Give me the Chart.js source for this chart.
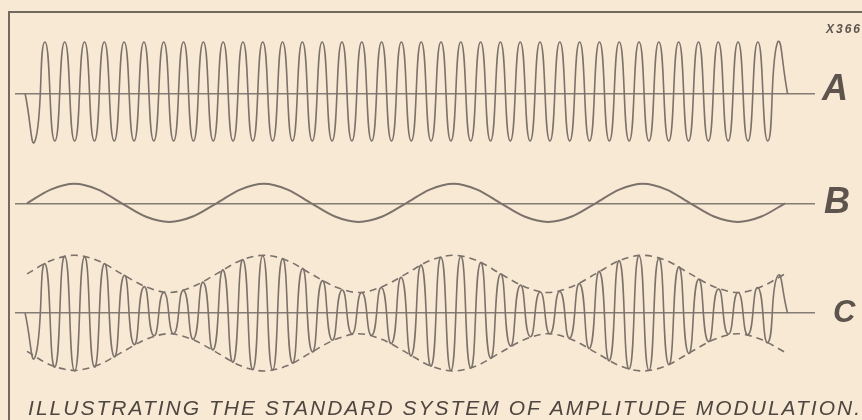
<!DOCTYPE html>
<html>
<head>
<meta charset="utf-8">
<script src="https://cdn.jsdelivr.net/npm/chart.js@4.4.1/dist/chart.umd.min.js"></script>
<style>
  html, body { margin: 0; padding: 0; background: #f7e9d3; }
  #wrap { position: relative; width: 862px; height: 420px; }
  #frame { position: absolute; left: 8px; top: 11px; right: 0; bottom: 0;
           border-left: 2px solid #72695f; border-top: 2px solid #72695f; pointer-events: none; }
</style>
</head>
<body>
<div id="wrap">
  <canvas id="grafikModulasi" width="862" height="420"></canvas>
  <div id="frame"></div>
</div>
<script>
// time is measured in periods of the modulating wave B
const carrierStart = -0.01;   // first sample of the carrier (on the axis)
const carrierStep = 0.05225;  // half a carrier cycle
const signalStep = 0.125;     // eighth of a modulation cycle

// A: unmodulated carrier, one value per half-cycle (trough, peak, ...)
const carrierA = [0,
  -0.97, 1.05, -0.97, 1.05, -0.97, 1.05, -0.97, 1.05, -0.97, 1.05,
  -0.97, 1.05, -0.97, 1.05, -0.97, 1.05, -0.97, 1.05, -0.97, 1.05,
  -0.97, 1.05, -0.97, 1.05, -0.97, 1.05, -0.97, 1.05, -0.97, 1.05,
  -0.97, 1.05, -0.97, 1.05, -0.97, 1.05, -0.97, 1.05, -0.97, 1.05,
  -0.97, 1.05, -0.97, 1.05, -0.97, 1.05, -0.97, 1.05, -0.97, 1.05,
  -0.97, 1.05, -0.97, 1.05, -0.97, 1.05, -0.97, 1.05, -0.97, 1.05,
  -0.97, 1.05, -0.97, 1.05, -0.97, 1.05, -0.97, 1.05, -0.97, 1.05,
  -0.97, 1.05, -0.97, 1.05, -0.97, 1.05,
  0];

// B: modulating wave, 4 cycles
const signalB = [
  0, 0.28, 0.40, 0.28, 0, -0.27, -0.38, -0.27,
  0, 0.28, 0.40, 0.28, 0, -0.27, -0.38, -0.27,
  0, 0.28, 0.40, 0.28, 0, -0.27, -0.38, -0.27,
  0, 0.28, 0.40, 0.28, 0, -0.27, -0.38, -0.27,
  0];

// C: modulated carrier, same half-cycles as A
const carrierC = [0,
  -0.90, 1.01, -1.10, 1.16, -1.18, 1.15, -1.10, 1.01, -0.89, 0.77,
  -0.64, 0.54, -0.46, 0.42, -0.42, 0.46, -0.53, 0.63, -0.75, 0.88,
  -1.00, 1.09, -1.15, 1.17, -1.16, 1.11, -1.02, 0.91, -0.79, 0.66,
  -0.55, 0.47, -0.42, 0.42, -0.45, 0.52, -0.62, 0.73, -0.87, 0.98,
  -1.08, 1.14, -1.17, 1.16, -1.12, 1.03, -0.92, 0.80, -0.67, 0.57,
  -0.48, 0.43, -0.42, 0.44, -0.51, 0.60, -0.72, 0.85, -0.97, 1.07,
  -1.14, 1.17, -1.17, 1.12, -1.05, 0.94, -0.82, 0.69, -0.58, 0.49,
  -0.43, 0.42, -0.44, 0.52, -0.60, 0.76,
  0];

// dashed envelope of C
const envelopeTop = [
  0.80, 1.07, 1.18, 1.07, 0.80, 0.54, 0.42, 0.54,
  0.80, 1.07, 1.18, 1.07, 0.80, 0.54, 0.42, 0.54,
  0.80, 1.07, 1.18, 1.07, 0.80, 0.54, 0.42, 0.54,
  0.80, 1.07, 1.18, 1.07, 0.80, 0.54, 0.42, 0.54,
  0.80];
const envelopeBottom = [
  -0.78, -1.06, -1.17, -1.06, -0.80, -0.54, -0.42, -0.54,
  -0.80, -1.07, -1.18, -1.07, -0.80, -0.54, -0.42, -0.54,
  -0.80, -1.07, -1.18, -1.07, -0.80, -0.54, -0.42, -0.54,
  -0.80, -1.07, -1.18, -1.07, -0.80, -0.54, -0.42, -0.54,
  -0.80];

const rowLetters = { yA: "A", yB: "B", yC: "C" };

const ink = "#7b726b";
const labelInk = "#5c544d";

function toPoints(values, start, step) {
    return values.map((v, i) => ({ x: start + i * step, y: v }));
}

function rowAxis(id, weight, range, pad, size, shift) {
    return {
        type: "linear",
        position: "right",
        stack: "rows",
        stackWeight: weight,
        min: -range,
        max: range,
        afterBuildTicks: (s) => { s.ticks = [{ value: 0 }]; },
        afterFit: (s) => { s.width = 47; },
        border: { display: false },
        grid: {
            drawTicks: false,
            lineWidth: 1.4,
            color: (c) => (c.tick && c.tick.value === 0 ? "#857c75" : "rgba(0,0,0,0)"),
        },
        ticks: {
            padding: pad,
            labelOffset: shift,
            color: labelInk,
            font: { family: "Liberation Sans", size: size, style: "italic", weight: "bold" },
            callback: () => rowLetters[id],
        },
    };
}

// smooth curves for the slow waves
const wave = {
    pointRadius: 0,
    cubicInterpolationMode: "monotone",
    borderColor: ink,
    borderWidth: 1.6,
    fill: false,
    clip: false,
};

// carrier: rounded tops, steep sides
const carrier = {
    ...wave,
    cubicInterpolationMode: "default",
    tension: 0.6,
};

const letterSpacing = {
    id: "letterSpacing",
    beforeDraw: (chart) => { chart.ctx.letterSpacing = "2px"; },
    afterDraw: (chart) => { chart.ctx.letterSpacing = "0px"; },
};

new Chart(document.getElementById("grafikModulasi"), {
    type: "line",
    data: {
        datasets: [
            { ...carrier, label: "A", yAxisID: "yA", data: toPoints(carrierA, carrierStart, carrierStep) },
            { ...wave, label: "B", yAxisID: "yB", borderWidth: 2, data: toPoints(signalB, 0, signalStep) },
            { ...carrier, label: "C", yAxisID: "yC", data: toPoints(carrierC, carrierStart, carrierStep) },
            { ...wave, label: "env+", yAxisID: "yC", borderDash: [7, 5], data: toPoints(envelopeTop, 0, signalStep) },
            { ...wave, label: "env-", yAxisID: "yC", borderDash: [7, 5], data: toPoints(envelopeBottom, 0, signalStep) },
        ],
    },
    options: {
        responsive: false,
        animation: false,
        layout: { padding: { left: 15, right: 0, top: 0, bottom: 0 } },
        plugins: {
            legend: { display: false },
            tooltip: { enabled: false },
            subtitle: {
                display: true,
                text: "X366",
                position: "top",
                align: "end",
                color: labelInk,
                font: { family: "Liberation Sans", size: 12, style: "italic", weight: "bold", lineHeight: 1 },
                padding: { top: 17, bottom: 1 },
            },
            title: {
                display: true,
                text: "ILLUSTRATING THE STANDARD SYSTEM OF AMPLITUDE MODULATION.",
                position: "bottom",
                align: "end",
                color: "#4e4640",
                font: { family: "Liberation Sans", size: 21, style: "italic", weight: "normal", lineHeight: 1 },
                padding: { top: 29, bottom: 0 },
            },
        },
        scales: {
            x: { type: "linear", display: false, min: -0.0633, max: 4.158 },
            yA: rowAxis("yA", 116, 1.16, 7, 36, -3),
            yB: rowAxis("yB", 108, 1.08, 9, 36, 0),
            yC: rowAxis("yC", 116, 1.16, 18, 31, 0),
        },
    },
    plugins: [letterSpacing],
});
</script>
</body>
</html>
